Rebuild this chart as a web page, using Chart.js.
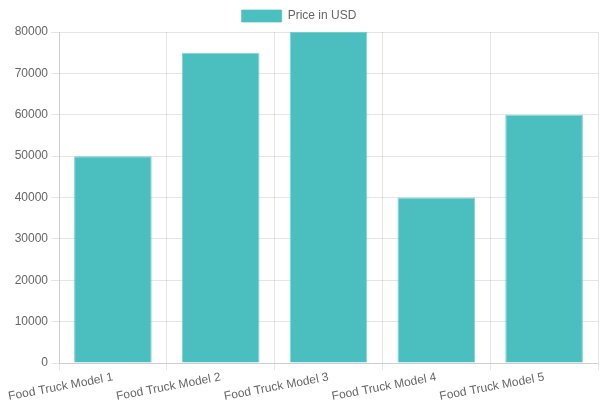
<!DOCTYPE html>
<html>
<head>
<meta charset="utf-8">
<script src="https://cdn.jsdelivr.net/npm/chart.js@4"></script>
<style>
  html, body { margin: 0; padding: 0; background: #fff; }
  #wrap { width: 600px; height: 400px; }
</style>
</head>
<body>
<div id="wrap"><canvas id="priceChart"></canvas></div>
<script>
// Chart data
const models = ['Food Truck Model 1', 'Food Truck Model 2', 'Food Truck Model 3', 'Food Truck Model 4', 'Food Truck Model 5'];
const prices = [50000, 75000, 80000, 40000, 60000];

Chart.defaults.font.family = '"Liberation Sans", Arial, sans-serif';

const ctx = document.getElementById('priceChart').getContext('2d');
new Chart(ctx, {
    type: 'bar',
    data: {
        labels: models,
        datasets: [{
            label: 'Price in USD',
            data: prices,
            backgroundColor: 'rgba(75, 191, 191, 1)',
            borderColor: 'rgba(75, 192, 192, 0.7)',
            borderWidth: 1
        }]
    },
    options: {
        responsive: true,
        maintainAspectRatio: false,
        animation: false,
        layout: { padding: { right: 2 } },
        scales: {
            x: {
                grid: { tickLength: 7 },
                ticks: { padding: 0 },
                afterFit: function(scale) { scale.height = 37; }
            },
            y: {
                beginAtZero: true,
                ticks: {
                    callback: function(value) { return String(value); }
                },
                afterFit: function(scale) { scale.width = 59; }
            }
        }
    }
});
</script>
</body>
</html>
